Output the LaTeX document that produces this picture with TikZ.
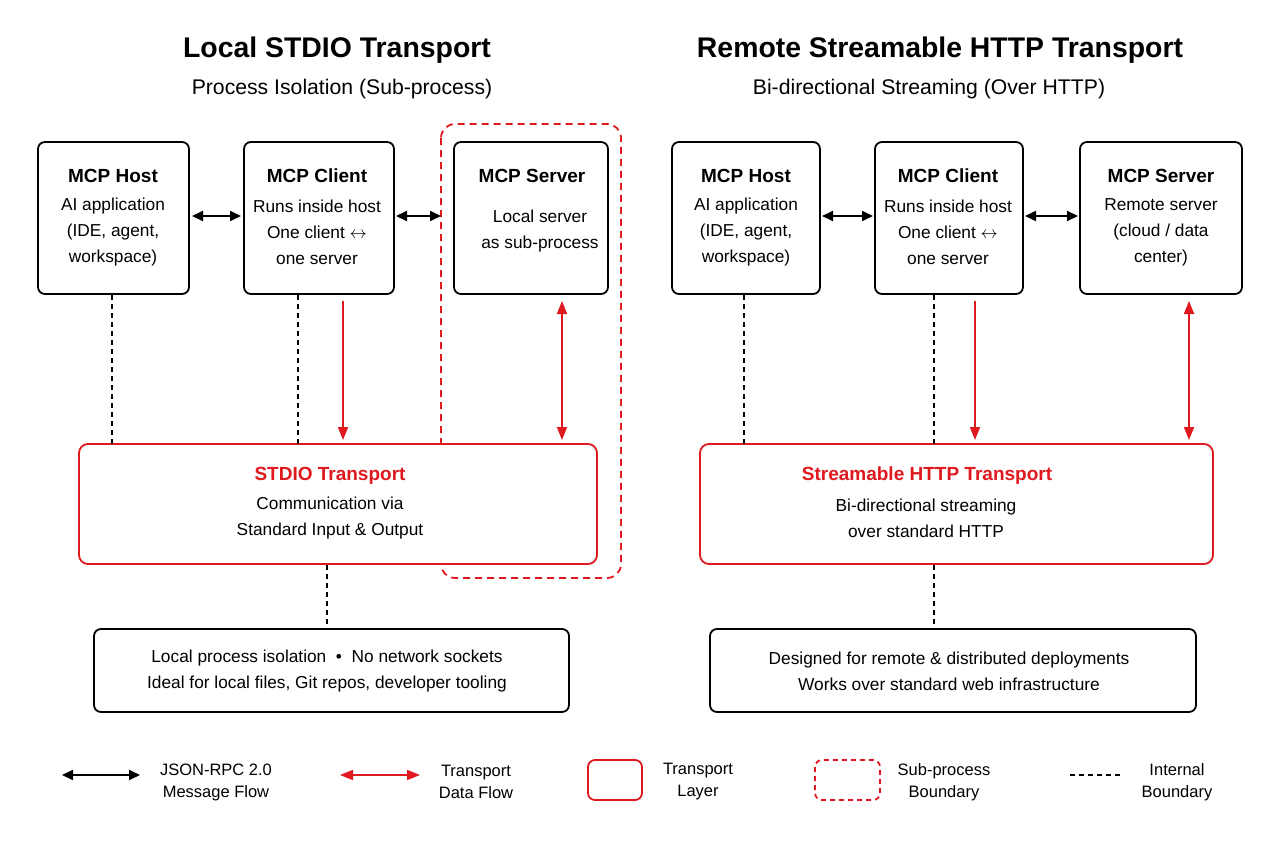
\documentclass[tikz,border=0pt]{standalone}
\usepackage{fontspec}
\setmainfont{Liberation Sans}
\usetikzlibrary{arrows.meta}
\definecolor{rd}{HTML}{E0191E}
\begin{document}
\begin{tikzpicture}[x=1pt,y=-1pt,
 box/.style={draw,line width=1.8pt,rounded corners=7pt,align=center,inner sep=0pt},
 rbox/.style={draw=rd,line width=1.8pt,rounded corners=9pt},
 body/.style={font=\fontsize{17.3}{26}\selectfont,align=center},
 hd/.style={font=\bfseries\fontsize{19}{22}\selectfont,align=center},
 rhd/.style={font=\bfseries\fontsize{19}{22}\selectfont,text=rd},
 ttl/.style={font=\bfseries\fontsize{28.4}{32}\selectfont},
 sub/.style={font=\fontsize{21.2}{25}\selectfont},
 tip/.style={Triangle[length=13pt,width=11pt]},
 barr/.style={{Triangle[length=11pt,width=10pt]}-{Triangle[length=11pt,width=10pt]},line width=1.8pt},
 rarr/.style={-{Triangle[length=13pt,width=10pt]},draw=rd,line width=1.8pt},
 rdarr/.style={{Triangle[length=13pt,width=10pt]}-{Triangle[length=13pt,width=10pt]},draw=rd,line width=1.8pt},
 dsh/.style={dashed,dash pattern=on 5pt off 4pt,line width=1.2pt},
 leg/.style={font=\fontsize{16.5}{22}\selectfont,align=center}]
\useasboundingbox[fill=white] (0,0) rectangle (1280,843);
% titles
\node[ttl] (t1) at (337,50) {Local STDIO Transport};
\node[sub] (s1) at (342,89) {Process Isolation (Sub-process)};
\node[ttl] (t2) at (940,50) {Remote Streamable HTTP Transport};
\node[sub] (s2) at (929,89) {Bi-directional Streaming (Over HTTP)};
% left
\draw[rbox,dashed,dash pattern=on 7pt off 5pt,rounded corners=14pt] (441,124) rectangle (621,578);
\node[box,minimum width=151pt,minimum height=152pt] (h1) at (113.5,218) {};
\node[box,minimum width=150pt,minimum height=152pt] (c1) at (319,218) {};
\node[box,minimum width=154pt,minimum height=152pt] (v1) at (531,218) {};
\node[hd] at (113,176) {MCP Host};
\node[body] at (113,232) {AI application\\(IDE, agent,\\workspace)};
\node[hd] at (317,176) {MCP Client};
\node[body] at (317,232) {Runs inside host\\One client $\leftrightarrow$\\one server};
\node[hd] at (532,176) {MCP Server};
\node[body] at (540,231) {Local server\\as sub-process};
\draw[rbox,fill=white] (79,444) rectangle (597,564);
\node[rhd] at (330,476) {STDIO Transport};
\node[body] at (330,518) {Communication via\\Standard Input \& Output};
\node[box,minimum width=475pt,minimum height=83pt] (b1) at (331.5,670.5) {};
\node[body] at (327,671) {Local process isolation\ \ \textbullet\ \ No network sockets\\Ideal for local files, Git repos, developer tooling};
\draw[barr] (192,216) -- (241,216);
\draw[barr] (396,216) -- (441,216);
\draw[rarr] (343,301) -- (343,440);
\draw[rdarr] (562,301) -- (562,440);
\draw[dsh] (112,295) -- (112,444);
\draw[dsh] (298,295) -- (298,444);
\draw[dsh] (327,565) -- (327,629);
% right
\node[box,minimum width=148pt,minimum height=152pt] (h2) at (746,218) {};
\node[box,minimum width=148pt,minimum height=152pt] (c2) at (949,218) {};
\node[box,minimum width=162pt,minimum height=152pt] (v2) at (1161,218) {};
\node[hd] at (746,176) {MCP Host};
\node[body] at (746,232) {AI application\\(IDE, agent,\\workspace)};
\node[hd] at (948,176) {MCP Client};
\node[body] at (948,232) {Runs inside host\\One client $\leftrightarrow$\\one server};
\node[hd] at (1161,176) {MCP Server};
\node[body] at (1161,232) {Remote server\\(cloud / data\\center)};
\draw[rbox] (700,444) rectangle (1213,564);
\node[rhd] at (927,476) {Streamable HTTP Transport};
\node[body] at (926,518) {Bi-directional streaming\\over standard HTTP};
\node[box,minimum width=486pt,minimum height=83pt] (b2) at (953,670.5) {};
\node[body] at (949,671) {Designed for remote \& distributed deployments\\Works over standard web infrastructure};
\draw[barr] (822,216) -- (873,216);
\draw[barr] (1025,216) -- (1078,216);
\draw[rarr] (975,301) -- (975,440);
\draw[rdarr] (1189,301) -- (1189,440);
\draw[dsh] (744,295) -- (744,444);
\draw[dsh] (934,295) -- (934,444);
\draw[dsh] (934,565) -- (934,629);
% legend
\draw[barr] (62,775) -- (140,775);
\node[leg] at (216,782) {JSON-RPC 2.0\\Message Flow};
\draw[rdarr] (340,775) -- (420,775);
\node[leg] at (476,782) {Transport\\Data Flow};
\draw[rbox,rounded corners=7pt] (588,760) rectangle (642,800);
\node[leg] at (698,782) {Transport\\Layer};
\draw[rbox,dashed,dash pattern=on 5pt off 4pt,rounded corners=7pt] (815,760) rectangle (880,800);
\node[leg] at (944,782) {Sub-process\\Boundary};
\draw[dsh] (1070,775) -- (1122,775);
\node[leg] at (1177,782) {Internal\\Boundary};
\end{tikzpicture}
\end{document}
